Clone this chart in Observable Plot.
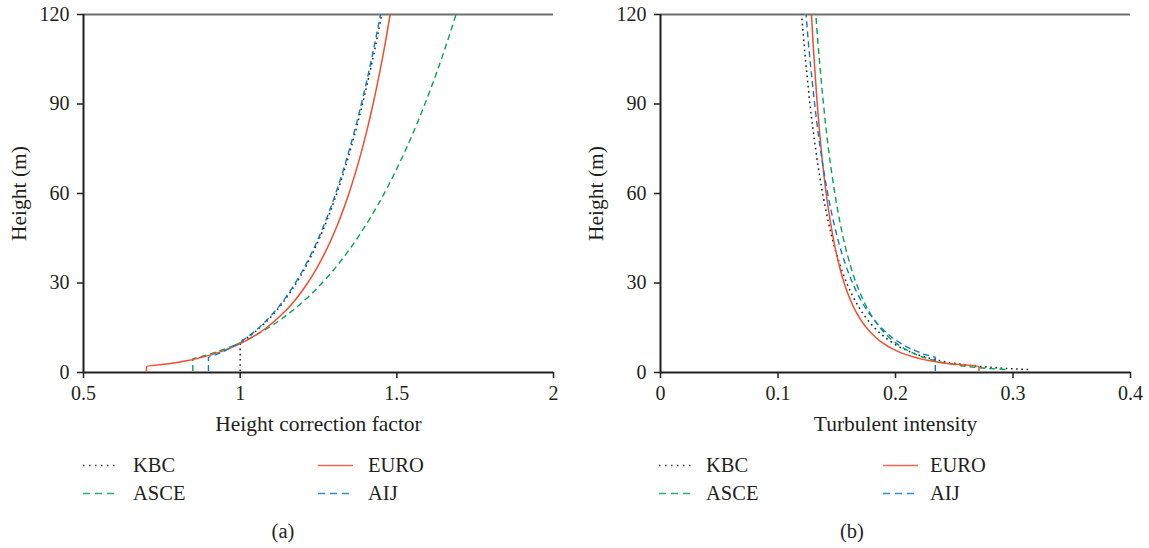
<!DOCTYPE html>
<html>
<head>
<meta charset="utf-8">
<script src="https://cdn.jsdelivr.net/npm/d3@7"></script>
<script src="https://cdn.jsdelivr.net/npm/@observablehq/plot@0.6"></script>
<style>
  html, body { margin: 0; padding: 0; background: #fff; }
  #wrap { position: relative; width: 1149px; height: 548px; font-family: "Liberation Serif", "Times New Roman", serif; color: #231f20; }
  .col { position: absolute; top: 0; height: 548px; }
  .leg { position: absolute; font-size: 20.5px; line-height: 20px; white-space: nowrap; }
  .leg svg { position: absolute; top: 0; }
  .cap { position: absolute; font-size: 20.5px; transform: translateX(-50%); white-space: nowrap; }
</style>
</head>
<body>
<div id="wrap">
  <div class="col" id="colA" style="left:0;width:575px"></div>
  <div class="col" id="colB" style="left:575px;width:574px"></div>
</div>
<script>
// ---- data ----
const heights = [0.5, 1, 1.5, 2, 3, 4, 4.57, 5, 6, 7, 8, 10, 12, 15, 20, 25, 30, 40, 50, 60, 70, 80, 90, 100, 110, 120];

// (a) height correction factor
const hcfKBC  = [1, 1, 1, 1, 1, 1, 1, 1, 1, 1, 1, 1, 1.0277, 1.0627, 1.1096, 1.1473, 1.1791, 1.2311, 1.2731, 1.3083, 1.3390, 1.3660, 1.3904, 1.4125, 1.4329, 1.4517];
const hcfASCE = [0.8488, 0.8488, 0.8488, 0.8488, 0.8488, 0.8488, 0.8488, 0.8650, 0.8989, 0.9285, 0.9550, 1.0009, 1.0401, 1.0901, 1.1582, 1.2139, 1.2614, 1.3401, 1.4046, 1.4596, 1.5077, 1.5507, 1.5896, 1.6253, 1.6582, 1.6889];
const hcfEURO = [0.7009, 0.7009, 0.7009, 0.7009, 0.7779, 0.8326, 0.8579, 0.8750, 0.9096, 0.9389, 0.9643, 1.0067, 1.0413, 1.0837, 1.1384, 1.1808, 1.2154, 1.2701, 1.3125, 1.3471, 1.3764, 1.4018, 1.4242, 1.4442, 1.4623, 1.4788];
const hcfAIJ  = [0.8988, 0.8988, 0.8988, 0.8988, 0.8988, 0.8988, 0.8988, 0.8988, 0.9238, 0.9454, 0.9645, 0.9973, 1.0250, 1.0599, 1.1066, 1.1443, 1.1760, 1.2279, 1.2696, 1.3049, 1.3354, 1.3624, 1.3867, 1.4088, 1.4291, 1.4478];

// (b) turbulent intensity
const tiKBC  = [null, 0.3129, 0.2885, 0.2724, 0.2512, 0.2371, 0.2309, 0.2268, 0.2187, 0.2120, 0.2064, 0.1974, 0.1904, 0.1821, 0.1719, 0.1644, 0.1585, 0.1496, 0.1431, 0.1380, 0.1338, 0.1303, 0.1272, 0.1246, 0.1222, 0.1201];
const tiASCE = [null, 0.2936, 0.2744, 0.2615, 0.2444, 0.2330, 0.2279, 0.2245, 0.2178, 0.2123, 0.2076, 0.2000, 0.1940, 0.1869, 0.1782, 0.1717, 0.1665, 0.1587, 0.1529, 0.1484, 0.1446, 0.1414, 0.1387, 0.1363, 0.1341, 0.1322];
const tiEURO = [0.2711, 0.2711, 0.2711, 0.2711, 0.2442, 0.2282, 0.2215, 0.2172, 0.2089, 0.2024, 0.1970, 0.1887, 0.1825, 0.1753, 0.1669, 0.1609, 0.1563, 0.1496, 0.1448, 0.1410, 0.1380, 0.1355, 0.1334, 0.1316, 0.1299, 0.1285];
const tiAIJ  = [0.2339, 0.2339, 0.2339, 0.2339, 0.2339, 0.2339, 0.2339, 0.2339, 0.2255, 0.2187, 0.2129, 0.2036, 0.1963, 0.1878, 0.1773, 0.1695, 0.1635, 0.1543, 0.1476, 0.1423, 0.1380, 0.1343, 0.1312, 0.1285, 0.1260, 0.1239];

const seriesNames = ["KBC", "ASCE", "EURO", "AIJ"];
const xTicksA = [0.5, 1, 1.5, 2];
const xTicksB = [0, 0.1, 0.2, 0.3, 0.4];
const yTicks = [0, 30, 60, 90, 120];
const xLabelA = "Height correction factor";
const xLabelB = "Turbulent intensity";
const yLabel = "Height (m)";
const captions = ["(a)", "(b)"];

// ---- styles ----
const styles = {
  KBC:  {stroke: "#231f20", dash: "1.6,3.6", width: 1.5},
  ASCE: {stroke: "#00a650", dash: "6,4", width: 1.4},
  EURO: {stroke: "#f04e30", dash: null, width: 1.5},
  AIJ:  {stroke: "#0a7bd0", dash: "6,4", width: 1.4}
};

function table(vals) {
  const out = [];
  seriesNames.forEach((s) => {
    vals[s].forEach((v, i) => { if (v != null) out.push({series: s, h: heights[i], v}); });
  });
  return out;
}

function lineMarks(rows) {
  return seriesNames.map((s) => Plot.line(rows.filter(d => d.series === s), {
    x: "v", y: "h", curve: "monotone-y",
    stroke: styles[s].stroke, strokeWidth: styles[s].width,
    strokeDasharray: styles[s].dash || undefined,
    strokeLinecap: "butt"
  }));
}

function makePlot({rows, xDomain, xTicks, xLabel, width, marginLeft, marginRight}) {
  return Plot.plot({
    width, height: 440,
    marginTop: 14, marginBottom: 68, marginLeft, marginRight,
    style: {fontFamily: "'Liberation Serif', 'Times New Roman', serif", fontSize: "20px", color: "#231f20", background: "transparent", overflow: "visible"},
    x: {domain: xDomain},
    y: {domain: [0, 120]},
    marks: [
      Plot.ruleY([120], {stroke: "#6d6e71", strokeWidth: 2}),
      ...lineMarks(rows),
      Plot.axisX({ticks: xTicks, tickFormat: d => String(d), tickSize: 6, tickPadding: 7, strokeWidth: 1.5, label: null}),
      Plot.axisX({ticks: [], tickSize: 0, label: xLabel, labelAnchor: "center", labelOffset: 58, labelArrow: "none", fontSize: 21.5}),
      Plot.axisY({ticks: yTicks, tickFormat: d => String(d), tickSize: 6, tickPadding: 8, strokeWidth: 1.5, label: null}),
      Plot.axisY({ticks: [], tickSize: 0, label: yLabel, labelAnchor: "center", labelOffset: 73, labelArrow: "none", fontSize: 21.5}),
      Plot.ruleX([xDomain[0]], {stroke: "#231f20", strokeWidth: 2}),
      Plot.ruleY([0], {stroke: "#231f20", strokeWidth: 2})
    ]
  });
}

function legend(col, pos) {
  const items = [
    {s: "KBC", x: pos.c1, row: 0}, {s: "EURO", x: pos.c2, row: 0},
    {s: "ASCE", x: pos.c1, row: 1}, {s: "AIJ", x: pos.c2, row: 1}
  ];
  items.forEach(({s, x, row}) => {
    const div = document.createElement("div");
    div.className = "leg";
    div.style.left = x + "px";
    div.style.top = (455 + row * 28) + "px";
    const st = styles[s];
    div.innerHTML = `<svg width="36" height="20" style="left:0"><line x1="0" x2="35" y1="10.5" y2="10.5" stroke="${st.stroke}" stroke-width="${st.width}" ${st.dash ? `stroke-dasharray="${s === 'KBC' ? '1.5,4.5' : '7,5'}"` : ''} opacity="0.85"/></svg><span style="position:absolute;left:${pos.gap}px;top:0">${s}</span>`;
    col.appendChild(div);
  });
}

const colA = document.getElementById("colA");
const colB = document.getElementById("colB");

colA.appendChild(makePlot({
  rows: table({KBC: hcfKBC, ASCE: hcfASCE, EURO: hcfEURO, AIJ: hcfAIJ}),
  xDomain: [0.5, 2], xTicks: xTicksA, xLabel: xLabelA, width: 575, marginLeft: 83, marginRight: 22
}));
colB.appendChild(makePlot({
  rows: table({KBC: tiKBC, ASCE: tiASCE, EURO: tiEURO, AIJ: tiAIJ}),
  xDomain: [0, 0.4], xTicks: xTicksB, xLabel: xLabelB, width: 574, marginLeft: 85, marginRight: 19
}));

legend(colA, {c1: 83, c2: 318, gap: 50});
legend(colB, {c1: 84, c2: 308, gap: 47});

[[colA, captions[0], 283], [colB, captions[1], 277]].forEach(([col, t, x]) => {
  const d = document.createElement("div");
  d.className = "cap";
  d.style.left = x + "px";
  d.style.top = "520px";
  d.textContent = t;
  col.appendChild(d);
});
</script>
</body>
</html>
